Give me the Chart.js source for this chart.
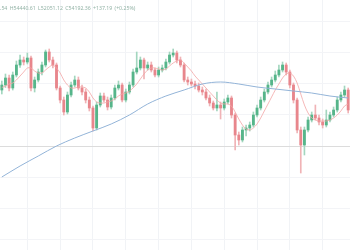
<!DOCTYPE html>
<html>
<head>
<meta charset="utf-8">
<script src="https://cdn.jsdelivr.net/npm/chart.js@4.4.0/dist/chart.umd.min.js"></script>
<style>
  html, body { margin: 0; padding: 0; background: #fff; }
  #wrap { position: relative; width: 350px; height: 250px; overflow: hidden; }
  #legend {
    position: absolute; left: 0px; top: 4px;
    font-family: "Noto Sans", sans-serif; font-size: 5.2px; word-spacing: 1px;
    color: #93b3a6; white-space: nowrap;
  }
</style>
</head>
<body>
<div id="wrap">
  <canvas id="chart" width="350" height="250"></canvas>
  <div id="legend">.54 H54440.61 L52051.12 C54192.36 +137.19 (+0.25%)</div>
</div>
<script>
// candles
const opens = [54200,54300,54440,54240,54500,54700,54800,54760,54840,54240,
  54400,54560,54700,54960,54800,54700,54240,54000,53760,54100,
  54300,54400,54240,54160,54000,53840,53440,53900,54080,54000,
  53860,54040,54240,54300,54000,54160,54300,54560,54640,54800,
  54640,54700,54600,54500,54600,54640,54760,54900,54940,54800,
  54700,54400,54360,54320,54280,54200,54160,54040,53940,53840,
  53900,53840,53960,54040,53700,53300,53200,53400,53440,53500,
  53700,53840,54000,54160,54300,54400,54500,54600,54700,54560,
  54300,54000,53400,53100,53400,53600,53700,53640,53560,53500,
  53600,53700,53800,54000,54100,54200];
const closes = [54300,54440,54240,54500,54700,54800,54760,54840,54240,54400,
  54560,54700,54960,54800,54700,54240,54000,53760,54100,54300,
  54400,54240,54160,54000,53840,53440,53900,54080,54000,53860,
  54040,54240,54300,54000,54160,54300,54560,54640,54800,54640,
  54700,54600,54500,54600,54640,54760,54900,54940,54800,54700,
  54400,54360,54320,54280,54200,54160,54040,53940,53840,53900,
  53840,53960,54040,53700,53300,53200,53400,53440,53500,53700,
  53840,54000,54160,54300,54400,54500,54600,54700,54560,54300,
  54000,53400,53100,53400,53600,53700,53640,53560,53500,53600,
  53700,53800,54000,54100,54200,53800];
const highs = [54380,54520,54500,54560,54780,54900,54860,54940,54880,54460,
  54620,54760,55000,55020,54860,54740,54280,54060,54160,54360,
  54480,54460,54300,54220,54060,53880,53960,54140,54140,54060,
  54100,54300,54380,54340,54220,54360,54620,54960,54860,54840,
  54760,54760,54640,54660,54700,54820,54960,55020,54980,54860,
  54740,54460,54420,54380,54340,54260,54220,54100,53980,54160,
  53960,54020,54100,54080,53740,53360,53460,53500,53560,53760,
  53900,54060,54220,54360,54460,54580,54700,54760,54740,54600,
  54340,54040,53460,53460,53660,53760,53900,53700,53620,53800,
  53760,53860,54060,54160,54280,54240];
const lows = [54120,54250,54180,54200,54460,54650,54700,54720,54180,54160,
  54360,54500,54660,54760,54640,54200,53940,53700,53720,54060,
  54260,54200,54100,53940,53780,53380,53400,53860,53960,53800,
  53820,54000,54200,53960,53960,54120,54260,54520,54600,54420,
  54600,54560,54460,54460,54560,54600,54720,54860,54740,54660,
  54360,54300,54280,54220,54160,54100,54000,53880,53800,53780,
  53620,53800,53920,53640,53000,53100,53160,53280,53380,53460,
  53660,53800,53960,54120,54260,54360,54460,54560,54500,54240,
  53940,53340,52540,52900,53360,53560,53600,53500,53440,53460,
  53560,53660,53760,53960,54060,53740];

// short moving average (pink)
const fastMa = [54250,54280,54320,54340,54400,54480,54560,54640,54640,54580,
  54540,54540,54600,54660,54700,54640,54540,54400,54300,54240,
  54240,54260,54260,54240,54160,54040,53960,53940,53940,53960,
  53980,54020,54080,54120,54140,54180,54240,54320,54420,54520,
  54600,54640,54640,54620,54600,54620,54680,54740,54780,54800,
  54740,54660,54580,54480,54400,54320,54240,54160,54080,54000,
  53940,53920,53920,53880,53760,53620,53500,53420,53400,53440,
  53520,53640,53780,53920,54060,54200,54320,54440,54520,54540,
  54480,54340,54120,53900,53740,53640,53600,53580,53580,53580,
  53600,53640,53700,53780,53880,53920];

// long moving average (blue), read every 5 candles
const slowMaIdx = [0,5,10,15,20,25,30,35,40,45,50,55,60,65,70,75,80,85,90,95];
const slowMaVal = [52460,52680,52880,53080,53240,53380,53520,53700,53920,54080,
  54200,54320,54360,54320,54260,54220,54180,54140,54080,54040];

// horizontal grid prices and vertical grid candles
const gridPrices = [55560,54940,54320,53700,53080,52460,51840,51220];
const priceLine = 53080;
const gridCandles = [7,16,25,34,43,52,61,70,79,88];

const UP = '#56b58a';
const DOWN = '#e8868c';
const UP_WICK = '#a3d6bf';
const DOWN_WICK = '#f0b3b6';

const labels = closes.map((_, i) => i);
const slowMa = closes.map(() => null);
slowMaIdx.forEach((idx, k) => { slowMa[idx] = slowMaVal[k]; });

const isUp = i => closes[i] >= opens[i];

new Chart(document.getElementById('chart').getContext('2d'), {
  type: 'bar',
  data: {
    labels: labels,
    datasets: [
      {
        type: 'line',
        data: slowMa,
        borderColor: '#93b4d8',
        borderWidth: 1,
        pointRadius: 0,
        spanGaps: true,
        cubicInterpolationMode: 'monotone',
        order: 0
      },
      {
        type: 'line',
        data: fastMa,
        borderColor: '#f2a6a6',
        borderWidth: 0.8,
        pointRadius: 0,
        tension: 0.3,
        order: 0
      },
      {
        data: opens.map((o, i) => [o, closes[i]]),
        backgroundColor: ctx => isUp(ctx.dataIndex) ? UP : DOWN,
        barThickness: 2.2,
        grouped: false,
        order: 1
      },
      {
        data: lows.map((l, i) => [l, highs[i]]),
        backgroundColor: ctx => isUp(ctx.dataIndex) ? UP_WICK : DOWN_WICK,
        barThickness: 1,
        grouped: false,
        order: 2
      }
    ]
  },
  options: {
    responsive: false,
    devicePixelRatio: 1,
    animation: false,
    layout: { padding: 0 },
    plugins: { legend: { display: false }, tooltip: { enabled: false } },
    scales: {
      x: {
        offset: true,
        ticks: { display: false, autoSkip: false },
        border: { display: false },
        grid: {
          offset: false,
          drawTicks: false,
          color: ctx => gridCandles.includes(ctx.index) ? '#f1f3f6' : 'rgba(0,0,0,0)'
        }
      },
      y: {
        min: 51000,
        max: 56000,
        afterBuildTicks: axis => { axis.ticks = gridPrices.map(v => ({ value: v })); },
        ticks: { display: false },
        border: { display: false },
        grid: {
          drawTicks: false,
          color: ctx => ctx.tick && ctx.tick.value === priceLine ? '#dcdcdc' : '#f3f4f7'
        }
      }
    }
  }
});
</script>
</body>
</html>
